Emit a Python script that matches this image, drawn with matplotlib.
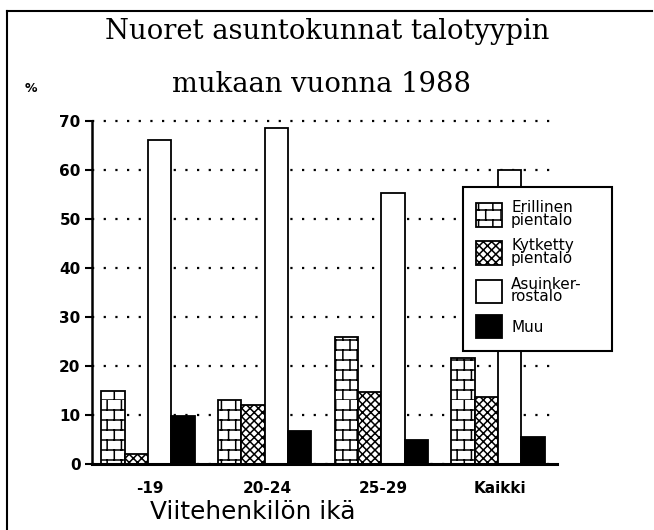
import warnings
import numpy as np
import matplotlib
matplotlib.use('Agg')
import matplotlib.pyplot as plt
from matplotlib import hatch as mhatch
from matplotlib.path import Path
from matplotlib.lines import Line2D

warnings.filterwarnings('ignore')

groups = ['-19', '20-24', '25-29', 'Kaikki']
series = ['Erillinen\npientalo', 'Kytketty\npientalo', 'Asuinker-\nrostalo', 'Muu']
erillinen = [15.0, 13.0, 25.9, 21.6]
kytketty = [2.0, 12.1, 14.6, 13.6]
asuinkerrostalo = [66.1, 68.6, 55.4, 59.9]
muu = [9.7, 6.7, 4.9, 5.6]
yticks = [0, 10, 20, 30, 40, 50, 60, 70]


# 'b' in a hatch string -> brick wall pattern
class BrickHatch(mhatch.HatchPatternBase):
    def __init__(self, hatch, density):
        self.rows = 10 * hatch.count('b')
        self.cols = 7
        self.num_vertices = 2 * (self.rows + self.rows * self.cols)

    def set_vertices_and_codes(self, vertices, codes):
        segs = []
        for k in range(self.rows):
            y0, y1 = k / self.rows, (k + 1) / self.rows
            segs.append(((0, y0), (1, y0)))
            for j in range(self.cols):
                xx = (j + 0.5 * (k % 2)) / self.cols
                segs.append(((xx, y0), (xx, y1)))
        vertices[:] = np.array(segs, float).reshape(-1, 2)
        codes[0::2] = Path.MOVETO
        codes[1::2] = Path.LINETO


mhatch._hatch_types.append(BrickHatch)

plt.rcParams['font.family'] = 'DejaVu Sans'
plt.rcParams['hatch.linewidth'] = 1.1
plt.rcParams['hatch.color'] = 'black'

fig = plt.figure(figsize=(6.54, 5.30), dpi=100)
ax = fig.add_axes([0.1402, 0.1245, 0.7115, 0.6472])

x = np.arange(len(groups)) * 5
styles = [dict(facecolor='white', hatch='b'),
          dict(facecolor='white', hatch='xxxx'),
          dict(facecolor='white'),
          dict(facecolor='black')]
for j, (vals, lab, st) in enumerate(zip([erillinen, kytketty, asuinkerrostalo, muu], series, styles)):
    ax.bar(x + j, vals, width=1.0, edgecolor='black', linewidth=1.3,
           label=lab, zorder=2, **st)

ax.set_xlim(-0.91, 19.03)
ax.set_ylim(0, 70)
ax.set_axisbelow(True)
ax.yaxis.grid(True, linestyle=(0, (1, 4.25)), linewidth=1.6, color='black')
for gl in ax.get_ygridlines():
    gl.set_clip_on(False)

for s in ['top', 'right']:
    ax.spines[s].set_visible(False)
ax.spines['left'].set_linewidth(1.8)
ax.spines['bottom'].set_linewidth(2.2)

ax.set_yticks(yticks)
ax.set_yticklabels([str(v) for v in yticks], fontsize=11, fontweight='bold')
ax.tick_params(axis='y', direction='out', length=5, width=1.5, pad=3)
ax.set_xticks(x + 1.6)
ax.set_xticklabels(groups, fontsize=11, fontweight='bold')
ax.tick_params(axis='x', length=0, pad=12)

leg = ax.legend(loc='upper left', bbox_to_anchor=(463 / 654, 1 - 352 / 530, 149 / 654, 165 / 530),
                bbox_transform=fig.transFigure, mode='expand', borderaxespad=0,
                fontsize=11, frameon=True, fancybox=False, framealpha=1,
                edgecolor='black', handlelength=1.7, handleheight=2.0,
                handletextpad=0.6, labelspacing=0.7, borderpad=0.85)
leg.get_frame().set_linewidth(1.5)
for t in leg.get_texts():
    t.set_linespacing(0.8)

fig.text(327 / 654, 1 - 39.3 / 530, 'Nuoret asuntokunnat talotyypin', ha='center',
         va='baseline', fontsize=19.7, family='DejaVu Serif')
fig.text(321 / 654, 1 - 91.7 / 530, 'mukaan vuonna 1988', ha='center',
         va='baseline', fontsize=19.7, family='DejaVu Serif')
fig.text(31 / 654, 1 - 92 / 530, '%', ha='center', va='baseline', fontsize=9, fontweight='bold')
fig.text(252.5 / 654, 1 - 519 / 530, 'Viitehenkilön ikä', ha='center', va='baseline', fontsize=17.8)

# frame lines at top and left of the page
fig.add_artist(Line2D([7.3 / 654, 7.3 / 654], [0, 1 - 11 / 530], transform=fig.transFigure,
                      color='black', linewidth=1.5))
fig.add_artist(Line2D([7.3 / 654, 652 / 654], [1 - 11 / 530, 1 - 11 / 530], transform=fig.transFigure,
                      color='black', linewidth=1.5))

fig.savefig('out.png', dpi=100)
